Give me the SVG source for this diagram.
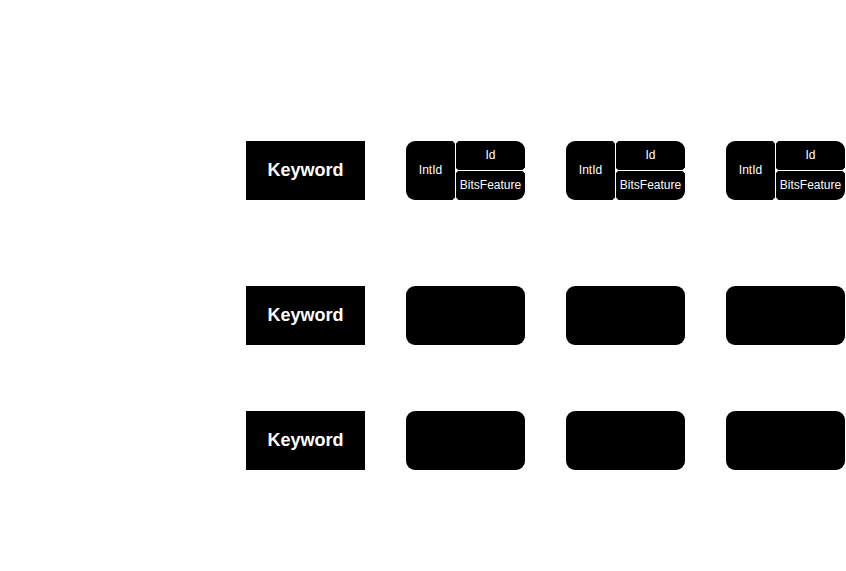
<svg xmlns="http://www.w3.org/2000/svg" width="846" height="571" viewBox="0 0 846 571">
<style>
.kw{fill:#000;}
.kwt{font-family:"Liberation Sans",Arial,sans-serif;font-size:18px;font-weight:bold;fill:#fff;text-anchor:middle;dominant-baseline:central;}
.blk{fill:#000;}
.div{stroke:#fff;stroke-width:1;fill:none;}
.nt{fill:#fff;}
.ct{font-family:"Liberation Sans",Arial,sans-serif;font-size:12px;fill:#fff;text-anchor:middle;dominant-baseline:central;}
</style>
<defs>
<g id="comp">
<rect class="blk" x="0" y="0" width="119" height="59" rx="9"/>
<path class="div" d="M49.5,0 V59 M49.5,29.5 H119"/>
<path class="nt" d="M46.5,0 L49.5,3 L52.5,0 Z M46.5,59 L49.5,56 L52.5,59 Z M49.5,26.5 L52.5,29.5 L49.5,32.5 Z M119,26.5 L116,29.5 L119,32.5 Z"/>
</g>
</defs>
<rect width="846" height="571" fill="#fff"/>
<g id="kw1"><rect class="kw" x="246" y="141" width="119" height="59"/><text class="kwt" x="305.5" y="169.5">Keyword</text></g>
<g id="kw2"><rect class="kw" x="246" y="286" width="119" height="59"/><text class="kwt" x="305.5" y="314.5">Keyword</text></g>
<g id="kw3"><rect class="kw" x="246" y="411" width="119" height="59"/><text class="kwt" x="305.5" y="439.5">Keyword</text></g>

<g id="r1c1">
<use href="#comp" x="406" y="141"/>
<text class="ct" x="430.5" y="169.5">IntId</text>
<text class="ct" x="490.5" y="154.5">Id</text>
<text class="ct" x="490.5" y="184.5">BitsFeature</text>
</g>
<g id="r1c2">
<use href="#comp" x="566" y="141"/>
<text class="ct" x="590.5" y="169.5">IntId</text>
<text class="ct" x="650.5" y="154.5">Id</text>
<text class="ct" x="650.5" y="184.5">BitsFeature</text>
</g>
<g id="r1c3">
<use href="#comp" x="726" y="141"/>
<text class="ct" x="750.5" y="169.5">IntId</text>
<text class="ct" x="810.5" y="154.5">Id</text>
<text class="ct" x="810.5" y="184.5">BitsFeature</text>
</g>

<g id="r2c1"><rect class="blk" x="406" y="286" width="119" height="59" rx="9"/></g>
<g id="r2c2"><rect class="blk" x="566" y="286" width="119" height="59" rx="9"/></g>
<g id="r2c3"><rect class="blk" x="726" y="286" width="119" height="59" rx="9"/></g>
<g id="r3c1"><rect class="blk" x="406" y="411" width="119" height="59" rx="9"/></g>
<g id="r3c2"><rect class="blk" x="566" y="411" width="119" height="59" rx="9"/></g>
<g id="r3c3"><rect class="blk" x="726" y="411" width="119" height="59" rx="9"/></g>
<g id="connectors"></g>
</svg>
